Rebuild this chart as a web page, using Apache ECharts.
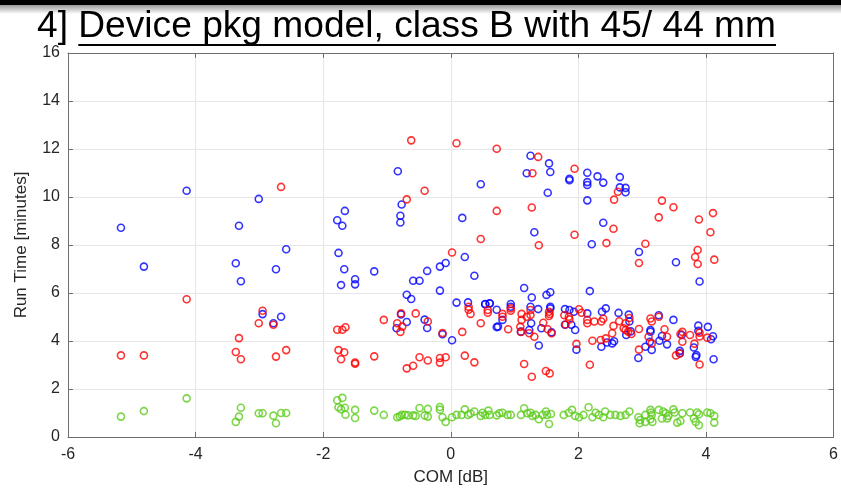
<!DOCTYPE html>
<html>
<head>
<meta charset="utf-8">
<script src="https://cdn.jsdelivr.net/npm/echarts@6/dist/echarts.min.js"></script>
<style>
  html, body { margin: 0; padding: 0; background: #fff; }
  #chart { width: 841px; height: 496px; }
</style>
</head>
<body>
<div id="chart"></div>
<script>
const titleText = '4] Device pkg model, class B with 45/ 44 mm';
const titlePrefix = '4] ';
const xTicks = [-6, -4, -2, 0, 2, 4, 6];
const yTicks = [0, 2, 4, 6, 8, 10, 12, 14, 16];

// [COM dB, run time minutes]
const blueRuns = [
  [-5.17, 8.72], [-4.81, 7.10], [-4.14, 10.26], [-3.01, 9.92], [-3.32, 8.80], [-2.58, 7.82],
  [-3.37, 7.24], [-2.74, 6.99], [-3.29, 6.49], [-2.95, 5.12], [-2.78, 4.74], [-2.66, 5.01],
  [-1.78, 9.03], [-1.66, 9.42], [-1.70, 8.80], [-1.76, 7.67], [-1.67, 6.99], [-1.72, 6.33],
  [-0.83, 11.07], [0.47, 10.53], [-0.77, 9.69], [-0.79, 9.22], [-0.79, 8.94], [0.18, 9.13],
  [-1.50, 6.57], [-1.50, 6.36], [-1.20, 6.90], [-0.59, 6.51], [-0.49, 6.51], [-0.37, 6.92],
  [-0.17, 7.10], [-0.08, 7.25], [0.22, 7.50], [0.37, 6.72], [-0.17, 6.10], [-0.69, 5.93],
  [-0.62, 5.75], [0.09, 5.60], [0.27, 5.61], [0.54, 5.53], [0.61, 5.56], [0.72, 5.30],
  [-0.78, 5.11], [-0.69, 4.79], [-0.41, 4.89], [-0.85, 4.53], [-0.37, 4.54], [-0.13, 4.28],
  [0.02, 4.03], [0.72, 4.58],
  [1.25, 11.72], [1.54, 11.40], [1.19, 10.99], [1.56, 11.04], [1.86, 10.76], [1.86, 10.70],
  [2.14, 11.01], [2.30, 10.86], [2.39, 10.60], [2.65, 10.83], [2.14, 10.62], [2.14, 10.50],
  [2.65, 10.40], [2.74, 10.38], [2.74, 10.20], [1.52, 10.18], [2.14, 9.86], [2.39, 8.93],
  [1.31, 8.53], [2.21, 8.03], [2.95, 7.71], [3.53, 7.28], [1.15, 6.21], [1.27, 5.81],
  [1.50, 5.92], [1.56, 6.03], [2.18, 6.08], [3.90, 6.48],
  [0.54, 5.54], [0.61, 5.57], [0.94, 5.54], [0.94, 5.43], [1.25, 5.43], [1.37, 5.33],
  [1.56, 5.43], [1.56, 5.36], [1.79, 5.33], [1.86, 5.29], [1.93, 5.22], [2.14, 5.15],
  [2.37, 5.22], [2.43, 5.36], [2.63, 5.17], [2.79, 5.10], [3.26, 5.07], [3.49, 4.88],
  [0.74, 4.60], [0.81, 4.88], [1.10, 4.39], [1.23, 4.46], [1.26, 4.74], [1.42, 4.53],
  [1.58, 4.36], [1.79, 4.68], [1.89, 4.68], [1.95, 4.46], [2.45, 3.94], [2.36, 3.76],
  [2.53, 3.90], [2.56, 3.99], [2.80, 4.81], [2.82, 4.40], [2.94, 3.29], [3.05, 3.76],
  [3.13, 4.46], [3.15, 3.63], [3.27, 4.01], [3.39, 3.86], [3.31, 4.21], [1.38, 3.81],
  [1.97, 3.64], [2.75, 4.25], [3.13, 4.39], [3.12, 3.97], [3.62, 4.25], [3.59, 3.59],
  [3.59, 3.49], [3.81, 3.73], [3.85, 3.41], [3.84, 3.34], [3.88, 4.64], [3.88, 4.42],
  [4.03, 4.59], [4.11, 4.20], [4.08, 4.07], [4.12, 3.24]
];

const redRuns = [
  [-5.17, 3.40], [-4.81, 3.40], [-4.14, 5.74], [-2.66, 10.42], [-2.95, 5.26], [-3.01, 4.74],
  [-2.78, 4.68], [-3.32, 4.12], [-3.37, 3.54], [-3.29, 3.24], [-2.74, 3.35], [-2.58, 3.62],
  [-1.78, 4.47], [-1.70, 4.47], [-1.65, 4.57], [-1.76, 3.62], [-1.67, 3.53], [-1.72, 3.24],
  [-0.62, 12.36], [0.09, 12.24], [0.72, 12.01], [-0.41, 10.26], [-0.69, 9.90], [0.72, 9.42],
  [0.47, 8.25], [0.02, 7.69], [0.28, 5.43], [0.28, 5.30], [0.31, 5.13], [0.58, 5.29],
  [0.58, 5.18], [0.47, 4.74], [-0.78, 5.15], [-0.55, 5.15], [-1.05, 4.88], [-0.84, 4.74],
  [-0.76, 4.60], [-0.79, 4.38], [-0.36, 4.81], [-0.13, 4.33], [0.18, 4.38], [-1.50, 3.10],
  [-1.50, 3.05], [-1.20, 3.36], [-0.49, 3.32], [-0.36, 3.19], [-0.17, 3.29], [-0.08, 3.32],
  [-0.17, 3.10], [0.22, 3.39], [0.37, 3.11], [-0.69, 2.86], [-0.59, 2.97],
  [1.37, 11.67], [1.28, 10.99], [1.94, 11.18], [2.62, 10.22], [2.56, 9.89], [3.31, 9.85],
  [3.49, 9.57], [1.27, 9.56], [3.26, 9.15], [2.55, 8.68], [1.94, 8.43], [1.38, 7.99],
  [2.44, 8.08], [3.05, 8.05], [2.95, 7.25],
  [0.81, 5.13], [0.81, 5.01], [0.94, 5.36], [0.94, 5.26], [1.11, 5.13], [1.11, 4.88],
  [1.19, 5.01], [1.25, 5.29], [1.25, 5.08], [1.54, 5.22], [1.55, 5.13], [1.54, 5.04],
  [1.78, 5.07], [1.85, 5.01], [1.86, 4.90], [2.01, 5.32], [2.05, 5.18], [2.14, 4.88],
  [2.14, 4.74], [2.25, 4.81], [2.36, 4.81], [2.39, 4.93], [2.55, 4.63], [2.64, 4.82],
  [2.74, 4.74], [2.74, 4.46], [2.83, 4.29], [2.95, 4.50], [3.13, 4.94], [3.15, 4.81],
  [3.26, 5.01], [3.35, 4.49], [0.90, 4.49], [1.09, 4.59], [1.10, 4.38], [1.23, 4.32],
  [1.31, 4.18], [1.45, 4.76], [1.52, 4.49], [1.58, 4.32], [1.80, 4.69], [1.97, 3.88],
  [2.22, 4.01], [2.35, 4.04], [2.43, 4.11], [2.53, 4.32], [2.71, 4.53], [2.78, 4.39],
  [3.10, 4.18], [3.15, 3.90], [3.39, 4.18], [3.53, 3.40],
  [1.15, 3.04], [1.27, 2.51], [1.49, 2.75], [1.55, 2.65], [2.18, 3.01], [2.95, 3.64],
  [3.89, 9.06], [4.11, 9.33], [4.07, 8.53], [3.87, 7.79], [3.83, 7.50], [3.87, 7.21],
  [4.13, 7.39], [2.80, 4.96], [3.63, 4.38], [3.63, 3.97], [3.60, 4.29], [3.75, 4.25],
  [3.90, 4.35], [3.90, 4.19], [3.82, 3.89], [4.02, 4.14], [3.59, 3.48], [3.90, 3.02]
];

const greenRuns = [
  [-5.17, 0.85], [-4.81, 1.08], [-4.14, 1.61], [-3.29, 1.22], [-3.32, 0.85], [-3.37, 0.63],
  [-3.01, 0.99], [-2.95, 0.99], [-2.78, 0.89], [-2.74, 0.57], [-2.66, 1.00], [-2.58, 1.00],
  [-1.78, 1.53], [-1.70, 1.63], [-1.76, 1.24], [-1.72, 1.16], [-1.66, 1.22], [-1.65, 0.93],
  [-1.50, 1.13], [-1.50, 0.79], [-1.20, 1.10], [-1.05, 0.92], [-0.84, 0.82], [-0.80, 0.86],
  [-0.77, 0.92], [-0.72, 0.93], [-0.67, 0.90], [-0.59, 0.90], [-0.55, 0.88], [-0.49, 1.21],
  [-0.41, 0.90], [-0.36, 0.85], [-0.36, 1.17], [-0.17, 1.25], [-0.17, 1.14], [-0.13, 0.82],
  [-0.08, 0.63], [0.02, 0.82], [0.09, 0.92], [0.17, 0.92], [0.22, 1.15], [0.27, 0.92],
  [0.31, 0.98], [0.37, 1.06], [0.47, 0.88], [0.54, 0.92], [0.59, 1.10], [0.61, 0.92],
  [0.72, 0.90], [0.50, 1.01], [0.76, 0.99], [0.81, 1.01], [0.89, 0.92], [0.94, 0.92],
  [1.10, 0.92], [1.15, 1.20], [1.20, 0.99], [1.25, 1.01], [1.28, 0.88], [1.33, 0.92],
  [1.38, 0.74], [1.44, 0.92], [1.49, 1.06], [1.51, 0.92], [1.54, 0.54], [1.57, 0.96],
  [1.77, 0.92], [1.85, 1.01], [1.90, 1.13], [1.95, 0.88], [2.01, 0.82], [2.08, 0.92],
  [2.16, 1.24], [2.22, 0.82], [2.27, 1.01], [2.32, 0.92], [2.39, 0.82], [2.42, 1.06],
  [2.50, 0.92], [2.58, 0.92], [2.66, 0.88], [2.74, 0.92], [2.80, 1.06], [2.94, 0.82],
  [2.97, 0.71], [3.05, 0.92], [3.13, 1.13], [3.15, 0.92], [3.26, 1.13], [3.33, 1.06],
  [3.41, 0.88], [3.49, 1.15], [2.96, 0.57], [3.05, 0.63], [3.13, 0.74], [3.14, 1.02],
  [3.16, 0.63], [3.31, 0.77], [3.37, 0.99], [3.39, 0.77], [3.51, 1.02], [3.55, 0.60],
  [3.60, 0.67], [3.63, 0.99], [3.75, 1.02], [3.81, 0.77], [3.86, 1.02], [3.89, 0.95],
  [3.84, 0.63], [3.89, 0.49], [4.02, 1.02], [4.07, 0.99], [4.13, 0.88], [4.13, 0.60]
];

const FONT = "'Liberation Sans', Arial, sans-serif";

function hollow(name, data, color) {
  return {
    name: name,
    type: 'scatter',
    data: data,
    symbol: 'circle',
    symbolSize: 7,
    itemStyle: { color: 'rgba(0,0,0,0)', borderColor: color, borderWidth: 1.6 },
    emphasis: { disabled: true },
    z: 3
  };
}

// title width measured so it can be squeezed like the narrow slide font
const ctx = document.createElement('canvas').getContext('2d');
ctx.font = "36px 'Liberation Sans'";
const fullW = ctx.measureText(titleText).width;
const prefixW = ctx.measureText(titlePrefix).width;
const titleLeft = 37, titleRight = 776;
const sx = (titleRight - titleLeft) / fullW;

const axisGray = '#6e6e6e';

const chart = echarts.init(document.getElementById('chart'));
chart.setOption({
  animation: false,
  backgroundColor: '#fff',
  grid: { left: 68, right: 3, top: 53, bottom: 59, containLabel: false },
  graphic: [
    { type: 'rect', shape: { x: 0, y: 0, width: 841, height: 5 }, style: { fill: '#000' }, z: 10 },
    {
      type: 'rect', shape: { x: 0, y: 5, width: 841, height: 9 },
      style: {
        fill: new echarts.graphic.LinearGradient(0, 0, 0, 1, [
          { offset: 0, color: '#9a9a9a' }, { offset: 1, color: '#ffffff' }
        ])
      },
      z: 10
    },
    {
      type: 'text', x: titleLeft, y: 27, scaleX: sx, z: 10,
      style: {
        text: titleText, font: "36px 'Liberation Sans'", fill: '#000',
        verticalAlign: 'middle', align: 'left'
      }
    },
    {
      type: 'line', z: 10,
      shape: { x1: titleLeft + prefixW * sx, y1: 45, x2: titleRight, y2: 45 },
      style: { stroke: '#000', lineWidth: 2 }
    }
  ],
  xAxis: [
    {
      type: 'value', min: -6, max: 6, interval: 2,
      name: 'COM [dB]', nameLocation: 'middle', nameGap: 32,
      nameTextStyle: { fontFamily: FONT, fontSize: 17, color: '#262626' },
      axisLine: { show: true, onZero: false, lineStyle: { color: axisGray, width: 1 } },
      axisTick: { show: true, inside: true, length: 5, lineStyle: { color: axisGray } },
      axisLabel: {
        fontFamily: FONT, fontSize: 16, color: '#262626', margin: 10,
        formatter: v => xTicks.includes(v) ? String(v) : ''
      },
      splitLine: { show: true, lineStyle: { color: '#e6e6e6', width: 1 } }
    },
    {
      type: 'value', min: -6, max: 6, interval: 2, position: 'top',
      axisLine: { show: true, onZero: false, lineStyle: { color: axisGray, width: 1 } },
      axisTick: { show: true, inside: true, length: 5, lineStyle: { color: axisGray } },
      axisLabel: { show: false }, splitLine: { show: false }
    }
  ],
  yAxis: [
    {
      type: 'value', min: 0, max: 16, interval: 2,
      name: 'Run Time [minutes]', nameLocation: 'middle', nameGap: 38,
      nameTextStyle: { fontFamily: FONT, fontSize: 17, color: '#262626' },
      axisLine: { show: true, onZero: false, lineStyle: { color: axisGray, width: 1 } },
      axisTick: { show: true, inside: true, length: 5, lineStyle: { color: axisGray } },
      axisLabel: {
        fontFamily: FONT, fontSize: 16, color: '#262626', margin: 8,
        formatter: v => yTicks.includes(v) ? String(v) : ''
      },
      splitLine: { show: true, lineStyle: { color: '#e6e6e6', width: 1 } }
    },
    {
      type: 'value', min: 0, max: 16, interval: 2, position: 'right',
      axisLine: { show: true, onZero: false, lineStyle: { color: axisGray, width: 1 } },
      axisTick: { show: true, inside: true, length: 5, lineStyle: { color: axisGray } },
      axisLabel: { show: false }, splitLine: { show: false }
    }
  ],
  series: [
    hollow('blue', blueRuns, '#0000ff'),
    hollow('red', redRuns, '#ff0000'),
    hollow('green', greenRuns, '#5ccc1c')
  ]
});
</script>
</body>
</html>
